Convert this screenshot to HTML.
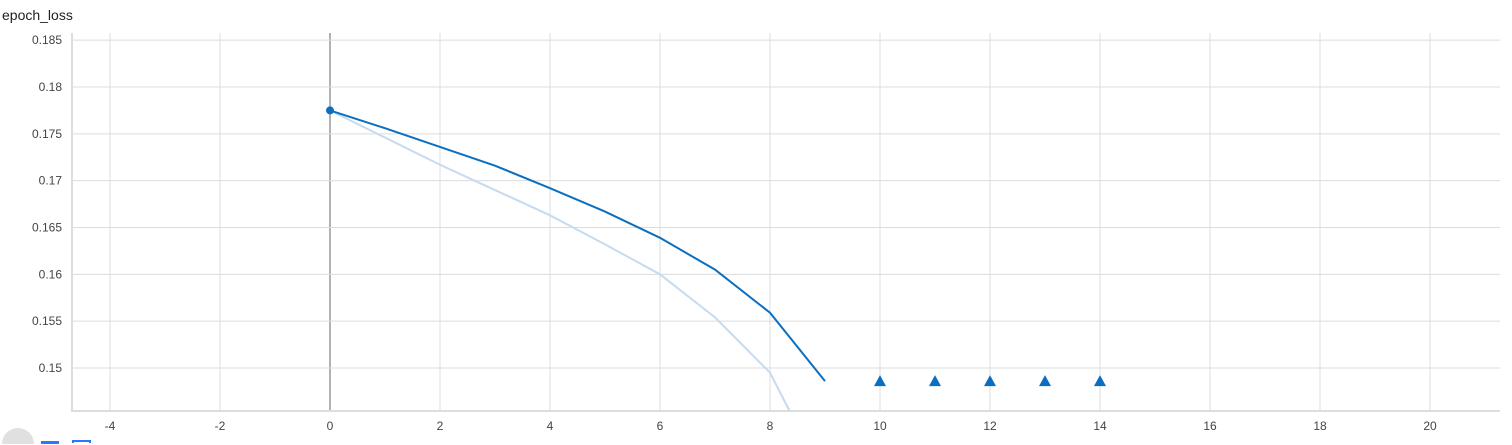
<!DOCTYPE html>
<html style="overflow:hidden;height:445px"><head><meta charset="utf-8"><style>
html,body{margin:0;padding:0}
body{background:#fff;width:1512px;height:445px;overflow:hidden;font-family:"Liberation Sans",sans-serif}
svg{display:block;overflow:hidden}
</style></head><body><svg width="1512" height="445">
<text x="2" y="20" font-size="14" fill="#212121">epoch_loss</text>
<g id="grid"></g><g id="series"></g>
<path d="M2 444A16 16 0 0 1 34 444Z" fill="#e0e0e0"/>
<rect x="41" y="441" width="18" height="3" fill="#2979ff"/>
<path d="M73 443V441H90V443" fill="none" stroke="#2979ff" stroke-width="2"/>
</svg><script>
const xTicks=[-4,-2,0,2,4,6,8,10,12,14,16,18,20];
const yTicks=[0.15,0.155,0.16,0.165,0.17,0.175,0.18,0.185];
const steps=[0,1,2,3,4,5,6,7,8,9];
const smoothed=[0.1775,0.1756,0.1736,0.1716,0.1692,0.1667,0.1639,0.1605,0.1559,0.1486];
const raw=[0.1775,0.1746,0.1717,0.169,0.1663,0.1632,0.1600,0.1554,0.1495,0.1380];
const outSteps=[10,11,12,13,14];
const outVals=[0.1486,0.1486,0.1486,0.1486,0.1486];
const L=72,R=1500,T=33,B=411;
const X=v=>330+(v)*55;
const Y=v=>87+(0.18-v)/0.005*46.83;
const ns="http://www.w3.org/2000/svg";
const g=document.getElementById('grid'),s=document.getElementById('series');
function mk(t,a,p){const e=document.createElementNS(ns,t);for(const k in a)e.setAttribute(k,a[k]);p.appendChild(e);return e;}
function linePath(xs,vs){
 const pts=[];
 for(let i=0;i<xs.length;i++){
  const px=X(xs[i]),py=Y(vs[i]);
  if(py>B){
   if(i>0){const qx=X(xs[i-1]),qy=Y(vs[i-1]);const t=(B-qy)/(py-qy);pts.push([qx+(px-qx)*t,B]);}
   break;
  }
  pts.push([px,py]);
 }
 return 'M'+pts.map(p=>p[0].toFixed(2)+' '+p[1].toFixed(2)).join('L');
}
xTicks.forEach(v=>{
 const l=mk('line',{x1:X(v),x2:X(v),y1:T,y2:B,stroke:v===0?'#999':'#dcdcdc','stroke-width':v===0?1.5:1},g);
 
 
 const t=mk('text',{x:X(v),y:430,'font-size':12,fill:'#444','text-anchor':'middle'},g);t.textContent=v;
 
 
});
yTicks.forEach(v=>{
 const l=mk('line',{x1:L,x2:R,y1:Y(v),y2:Y(v),stroke:'#dcdcdc'},g);
 
 
 const t=mk('text',{x:62,y:Y(v)+4,'font-size':12,fill:'#444','text-anchor':'end'},g);t.textContent=String(v);
 
 
});
const ax=mk('path',{d:`M${L} ${T}V${B}H${R}`,fill:'none',stroke:'#ddd','stroke-width':2},g);


const pr=mk('path',{d:linePath(steps,raw),fill:'none',stroke:'#c6dbef','stroke-width':2},s);


const ps=mk('path',{d:linePath(steps,smoothed),fill:'none',stroke:'#0b6fc1','stroke-width':2},s);


const c=mk('circle',{cx:X(steps[0]),cy:Y(smoothed[0]),r:4,fill:'#0b6fc1'},s);


outSteps.forEach((x,i)=>{const cx=X(x),cy=Y(outVals[i]);
 const p=mk('path',{d:`M${cx} ${cy-6}L${cx+6} ${cy+5}L${cx-6} ${cy+5}Z`,fill:'#0b6fc1'},s);
 
 
});
</script></body></html>
